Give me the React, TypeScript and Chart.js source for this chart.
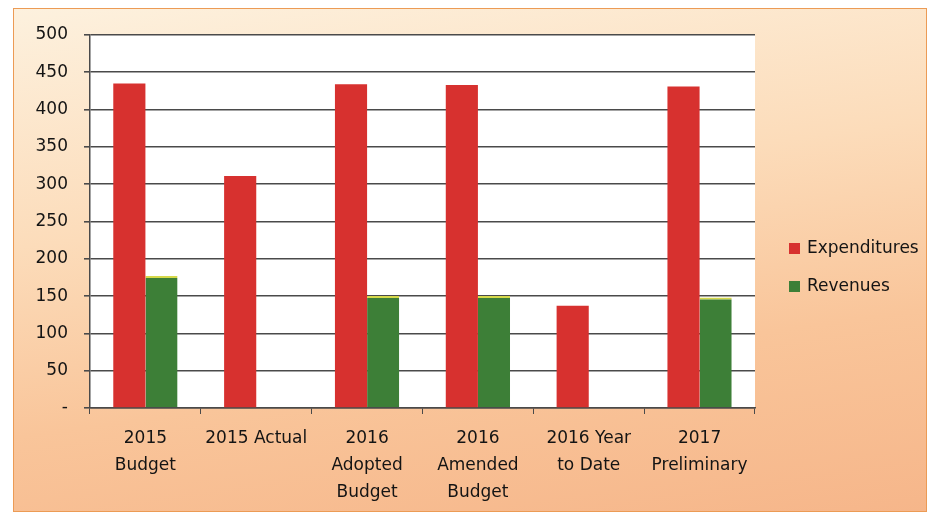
import React, { useEffect, useRef } from "react";
import { Chart, registerables } from "chart.js";

Chart.register(...registerables);

const categories: string[][] = [
  ["2015", "Budget"],
  ["2015 Actual"],
  ["2016", "Adopted", "Budget"],
  ["2016", "Amended", "Budget"],
  ["2016 Year", "to Date"],
  ["2017", "Preliminary"],
];
const expenditures: (number | null)[] = [435, 311, 434, 433, 137, 431];
const revenues: (number | null)[] = [177, null, 150, 150, null, 148];
const seriesNames = ["Expenditures", "Revenues"];
const yMin = 0;
const yMax = 500;
const yStep = 50;

const RED = "#d7312f";
const GREEN = "#3d7f37";
const FONT = "'DejaVu Sans', sans-serif";
const TEXT = "#141414";

const plotBg = {
  id: "plotBg",
  beforeDraw(chart: any) {
    const { ctx, chartArea } = chart;
    ctx.save();
    ctx.fillStyle = "#ffffff";
    ctx.fillRect(chartArea.left, chartArea.top, chartArea.right - chartArea.left, chartArea.bottom - chartArea.top);
    ctx.restore();
  },
};

const sideLegend = {
  id: "sideLegend",
  afterDraw(chart: any) {
    const { ctx, chartArea } = chart;
    const x = chartArea.right + 34;
    const ys = [chartArea.top + 214, chartArea.top + 252];
    ctx.save();
    chart.data.datasets.forEach((ds: any, i: number) => {
      const y = ys[i];
      ctx.fillStyle = ds.backgroundColor;
      ctx.fillRect(x, y - 6, 11, 11);
      ctx.fillStyle = TEXT;
      ctx.font = `17px ${FONT}`;
      ctx.textBaseline = "middle";
      ctx.textAlign = "left";
      ctx.fillText(ds.label, x + 18, y);
    });
    ctx.restore();
  },
};

export default function App() {
  const ref = useRef<HTMLCanvasElement | null>(null);
  useEffect(() => {
    if (!ref.current) return;
    const chart = new Chart(ref.current, {
      type: "bar",
      data: {
        labels: categories,
        datasets: [
          {
            label: seriesNames[0],
            data: expenditures,
            backgroundColor: RED,
            borderWidth: 0,
          },
          {
            label: seriesNames[1],
            data: revenues,
            backgroundColor: GREEN,
            borderColor: "#d6d94a",
            borderWidth: { top: 2, left: 0, right: 0, bottom: 0 },
            borderSkipped: "bottom",
          },
        ],
      },
      options: {
        responsive: false,
        animation: false,
        devicePixelRatio: 1,
        layout: { padding: { left: 0, top: 35, right: 180, bottom: 0 } },
        datasets: { bar: { categoryPercentage: 0.58, barPercentage: 1 } },
        plugins: { legend: { display: false }, tooltip: { enabled: false } },
        scales: {
          x: {
            afterFit: (s: any) => { s.height = 108; },
            grid: {
              offset: true,
              drawOnChartArea: false,
              drawTicks: true,
              tickLength: 6,
              color: "#4a4a4a",
            },
            border: { display: true, color: "#4a4a4a", width: 1.5 },
            ticks: {
              color: TEXT,
              font: { family: FONT, size: 17, lineHeight: 1.58 },
              padding: 11,
              maxRotation: 0,
              autoSkip: false,
            },
          },
          y: {
            min: yMin,
            max: yMax,
            afterFit: (s: any) => { s.width = 90; },
            grid: { color: "#4a4a4a", lineWidth: 1.6, tickLength: 6 },
            border: { display: true, color: "#4a4a4a", width: 1.5 },
            ticks: {
              stepSize: yStep,
              color: TEXT,
              font: { family: FONT, size: 17 },
              padding: 16,
              callback: (v: any) => (v === 0 ? "-" : String(v)),
            },
          },
        },
      },
      plugins: [plotBg, sideLegend],
    });
    return () => chart.destroy();
  }, []);

  return (
    <div style={{ position: "absolute", left: 0, top: 0, width: 935, height: 516, background: "#ffffff" }}>
      <div
        style={{
          position: "absolute",
          left: 13,
          top: 8,
          width: 912,
          height: 502,
          border: "1px solid #ec9b55",
          background: "linear-gradient(172deg, #fdf1de 0%, #fcdcba 38%, #f9c59a 68%, #f6b68a 100%)",
        }}
      />
      <canvas ref={ref} width={935} height={516} style={{ position: "absolute", left: 0, top: 0, width: 935, height: 516 }} />
    </div>
  );
}
